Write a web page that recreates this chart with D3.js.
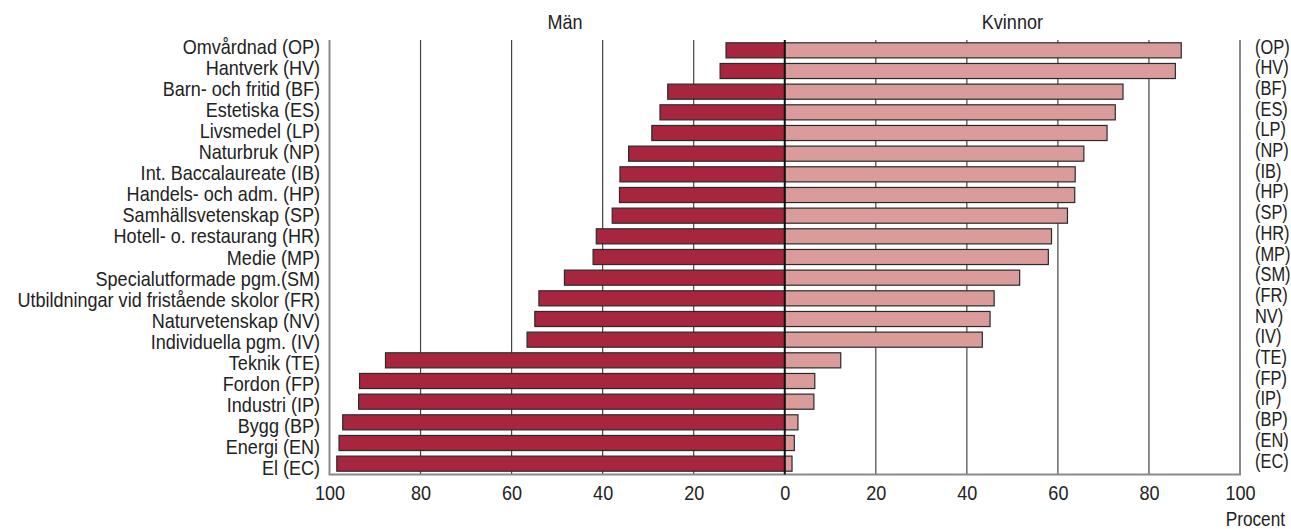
<!DOCTYPE html>
<html><head><meta charset="utf-8">
<script src="https://cdn.jsdelivr.net/npm/d3@7"></script>
<style>
html,body{margin:0;padding:0;background:#fff;}
svg text{font-family:"Liberation Sans",Arial,sans-serif;fill:#222;}
</style></head>
<body><svg id="c" width="1291" height="529"></svg>
<script>
const categories = ["Omvårdnad (OP)","Hantverk (HV)","Barn- och fritid (BF)","Estetiska (ES)","Livsmedel (LP)","Naturbruk (NP)","Int. Baccalaureate (IB)","Handels- och adm. (HP)","Samhällsvetenskap (SP)","Hotell- o. restaurang (HR)","Medie (MP)","Specialutformade pgm.(SM)","Utbildningar vid fristående skolor (FR)","Naturvetenskap (NV)","Individuella pgm. (IV)","Teknik (TE)","Fordon (FP)","Industri (IP)","Bygg (BP)","Energi (EN)","El (EC)"];
const rightLabels = ["(OP)","(HV)","(BF)","(ES)","(LP)","(NP)","(IB)","(HP)","(SP)","(HR)","(MP)","(SM)","(FR)","NV)","(IV)","(TE)","(FP)","(IP)","(BP)","(EN)","(EC)"];
const men =   [12.9,14.2,25.7,27.4,29.2,34.3,36.2,36.3,37.9,41.4,42.1,48.4,54.0,54.9,56.6,87.7,93.4,93.6,97.1,97.9,98.4];
const women = [87.1,85.8,74.3,72.6,70.8,65.7,63.8,63.7,62.1,58.6,57.9,51.6,46.0,45.1,43.4,12.3,6.6,6.4,2.9,2.1,1.6];
const tickValues = [-100,-80,-60,-40,-20,0,20,40,60,80,100];
const gridValues = [-80,-60,-40,-20,20,40,60,80];
const headers = ["Män","Kvinnor"];
const unitLabel = "Procent";

const svg = d3.select("#c");
const x = d3.scaleLinear().domain([-100,100]).range([329.5,1240]);
const y = d3.scaleBand().domain(categories).range([40,474]).paddingInner(0.27).paddingOuter(0.135);
const yLabL = d3.scalePoint().domain(categories).range([54,475]);
const yLabR = d3.scalePoint().domain(categories).range([53.5,467.5]);
const yTop = 40, yBot = 474.5;
const FS = 20.5, SX = 0.88;

function txt(g, px, py, s, anchor, sx, fs){
  return g.append("text")
    .attr("transform",`translate(${px},${py}) scale(${sx||SX},1)`)
    .attr("text-anchor",anchor).attr("font-size",fs||FS).text(s);
}

// grid
svg.append("g").selectAll("line").data(gridValues).join("line")
  .attr("x1",d=>x(d)).attr("x2",d=>x(d)).attr("y1",yTop).attr("y2",yBot)
  .attr("stroke","#444").attr("stroke-width",1.2);

// frame
svg.append("path")
  .attr("d",`M${x(-100)},${yTop}V${yBot}H${x(100)}V${yTop}`)
  .attr("fill","none").attr("stroke","#8a8a8a").attr("stroke-width",2);

// bars
svg.append("g").selectAll("rect").data(categories).join("rect")
  .attr("x",(d,i)=>x(-men[i])).attr("y",d=>y(d))
  .attr("width",(d,i)=>x(0)-x(-men[i])).attr("height",y.bandwidth())
  .attr("fill","#a8263d").attr("stroke","#2b2b2b").attr("stroke-width",1.2);
svg.append("g").selectAll("rect").data(categories).join("rect")
  .attr("x",x(0)).attr("y",d=>y(d))
  .attr("width",(d,i)=>x(women[i])-x(0)).attr("height",y.bandwidth())
  .attr("fill","#d99c9b").attr("stroke","#2b2b2b").attr("stroke-width",1.2);

// zero line
svg.append("line").attr("x1",x(0)).attr("x2",x(0)).attr("y1",yTop).attr("y2",yBot)
  .attr("stroke","#111").attr("stroke-width",2);

// category labels
const gl = svg.append("g");
categories.forEach((c,i)=>txt(gl, 320, yLabL(c), c, "end"));
const gr = svg.append("g");
categories.forEach((c,i)=>txt(gr, 1255, yLabR(c), rightLabels[i], "start", 0.8));

// x axis (ticks via d3 axis, labels condensed)
const axis = d3.axisBottom(x).tickValues(tickValues).tickSize(0).tickPadding(0).tickFormat(d=>Math.abs(d));
const ag = svg.append("g").attr("transform",`translate(0,${yBot})`).call(axis);
ag.select(".domain").remove();
ag.selectAll("text").attr("font-size",20.5).attr("y",0).attr("dy",0)
  .attr("transform",`translate(0,25.5) scale(0.88,1)`).style("fill","#222")
  .style("font-family",'"Liberation Sans",Arial,sans-serif');

// headers
txt(svg, 565, 29, headers[0], "middle");
txt(svg, x(50), 29, headers[1], "middle");
txt(svg, 1285, 525.5, unitLabel, "end", 0.84, 20.5);
</script></body></html>
